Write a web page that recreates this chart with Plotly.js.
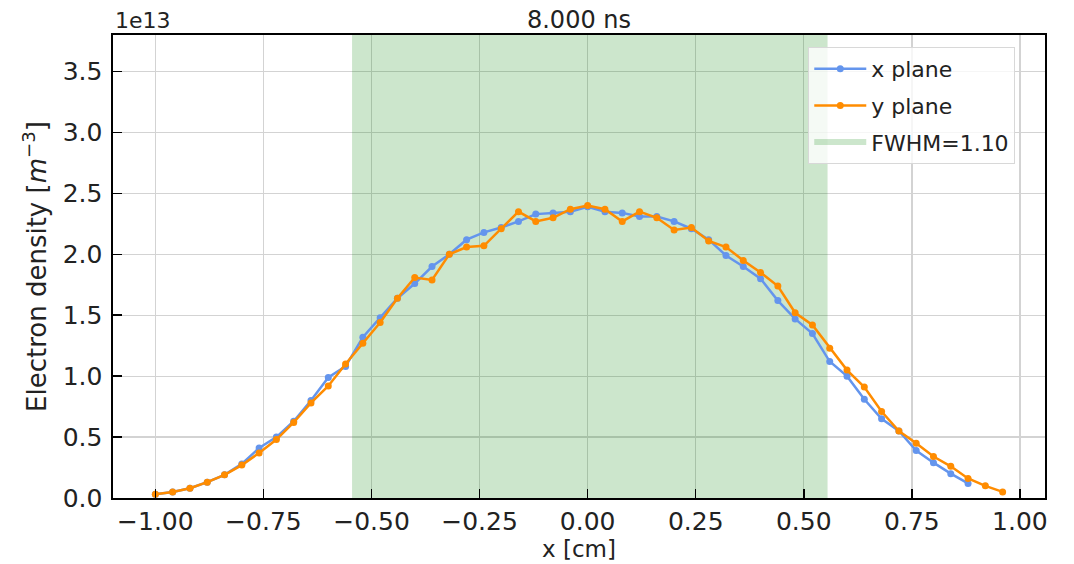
<!DOCTYPE html>
<html>
<head>
<meta charset="utf-8">
<script src="https://cdn.plot.ly/plotly-3.0.1.min.js"></script>
<style>html,body{margin:0;padding:0;background:#fff;}#chart{width:1074px;height:564px;}</style>
</head>
<body>
<div id="chart"></div>
<script>
// positions in cm
const xPlaneX = [-1.00,-0.96,-0.92,-0.88,-0.84,-0.80,-0.76,-0.72,-0.68,-0.64,-0.60,-0.56,-0.52,-0.48,-0.44,-0.40,-0.36,-0.32,-0.28,-0.24,-0.20,-0.16,-0.12,-0.08,-0.04,0.00,0.04,0.08,0.12,0.16,0.20,0.24,0.28,0.32,0.36,0.40,0.44,0.48,0.52,0.56,0.60,0.64,0.68,0.72,0.76,0.80,0.84,0.88];
// electron density, units of 1e13 m^-3
const xPlaneY = [0.03,0.05,0.08,0.13,0.19,0.28,0.41,0.50,0.63,0.80,0.99,1.08,1.32,1.48,1.64,1.76,1.90,2.00,2.12,2.18,2.22,2.27,2.33,2.34,2.35,2.39,2.35,2.34,2.31,2.31,2.27,2.21,2.12,1.99,1.90,1.80,1.62,1.47,1.35,1.12,1.00,0.81,0.65,0.55,0.39,0.29,0.20,0.12];
const yPlaneX = [-1.00,-0.96,-0.92,-0.88,-0.84,-0.80,-0.76,-0.72,-0.68,-0.64,-0.60,-0.56,-0.52,-0.48,-0.44,-0.40,-0.36,-0.32,-0.28,-0.24,-0.20,-0.16,-0.12,-0.08,-0.04,0.00,0.04,0.08,0.12,0.16,0.20,0.24,0.28,0.32,0.36,0.40,0.44,0.48,0.52,0.56,0.60,0.64,0.68,0.72,0.76,0.80,0.84,0.88,0.92,0.96];
const yPlaneY = [0.03,0.05,0.08,0.13,0.19,0.27,0.37,0.48,0.62,0.78,0.92,1.10,1.27,1.44,1.64,1.81,1.79,2.00,2.06,2.07,2.21,2.35,2.27,2.30,2.37,2.40,2.37,2.27,2.35,2.30,2.20,2.22,2.11,2.06,1.95,1.85,1.74,1.52,1.42,1.23,1.05,0.91,0.71,0.55,0.45,0.34,0.26,0.16,0.10,0.05];
const fwhmLow = -0.545, fwhmHigh = 0.555, fwhmLabel = 'FWHM=1.10';
const yTop = 3.8;
const xTicks = [-1.00,-0.75,-0.50,-0.25,0.00,0.25,0.50,0.75,1.00];
const yTicks = [0.0,0.5,1.0,1.5,2.0,2.5,3.0,3.5];

const font = 'DejaVu Sans, sans-serif';
const traces = [
  {x:[fwhmLow,fwhmHigh,fwhmHigh,fwhmLow,fwhmLow], y:[0,0,yTop,yTop,0], type:'scatter', mode:'none',
   fill:'toself', fillcolor:'rgba(0,128,0,0.2)', name:fwhmLabel, legendrank:3, legendgroup:'c', hoverinfo:'skip'},
  {x:xPlaneX, y:xPlaneY, type:'scatter', mode:'lines+markers', name:'x plane', legendrank:1, legendgroup:'a',
   line:{color:'#6495ED', width:2.5}, marker:{color:'#6495ED', size:7}},
  {x:yPlaneX, y:yPlaneY, type:'scatter', mode:'lines+markers', name:'y plane', legendrank:2, legendgroup:'b',
   line:{color:'#FF8C00', width:2.5}, marker:{color:'#FF8C00', size:7}}
];
const axisCommon = {showline:true, linecolor:'#000', linewidth:1.6, mirror:true, ticks:'inside', ticklen:9, tickwidth:1.5,
  tickcolor:'#000', showgrid:true, gridcolor:'#d3d3d3', gridwidth:1.3, zeroline:false,
  tickfont:{family:font, size:25, color:'#222'}};
const layout = {
  width:1074, height:564, paper_bgcolor:'#fff', plot_bgcolor:'#fff',
  margin:{l:113, r:29, t:35, b:66},
  showlegend:true,
  title:{text:'8.000 ns', font:{family:font, size:24, color:'#222'}, xref:'paper', x:0.5, xanchor:'center', y:0.965, yanchor:'middle'},
  xaxis:Object.assign({}, axisCommon, {range:[-1.098,1.058], tickvals:xTicks, tickformat:'.2f', ticklabelstandoff:0,
    title:{text:'x [cm]', font:{family:font, size:23, color:'#222'}, standoff:0}}),
  yaxis:Object.assign({}, axisCommon, {range:[0,yTop], tickvals:yTicks, tickformat:'.1f', ticklabelstandoff:4,
    title:{text:'Electron density [<i>m</i><sup>−3</sup>]', font:{family:font, size:26, color:'#222'}, standoff:8}}),
  legend:{x:0.746, xanchor:'left', y:0.974, yanchor:'top', bgcolor:'rgba(255,255,255,0.8)', bordercolor:'#d8d8d8', borderwidth:1,
    font:{family:font, size:22, color:'#222'}, itemwidth:52, tracegroupgap:5},
  annotations:[{text:'1e13', xref:'paper', yref:'paper', x:0, y:1, xanchor:'left', yanchor:'bottom', showarrow:false,
    font:{family:font, size:22, color:'#222'}}]
};
Plotly.newPlot('chart', traces, layout, {displayModeBar:false, staticPlot:true});
</script>
</body>
</html>
